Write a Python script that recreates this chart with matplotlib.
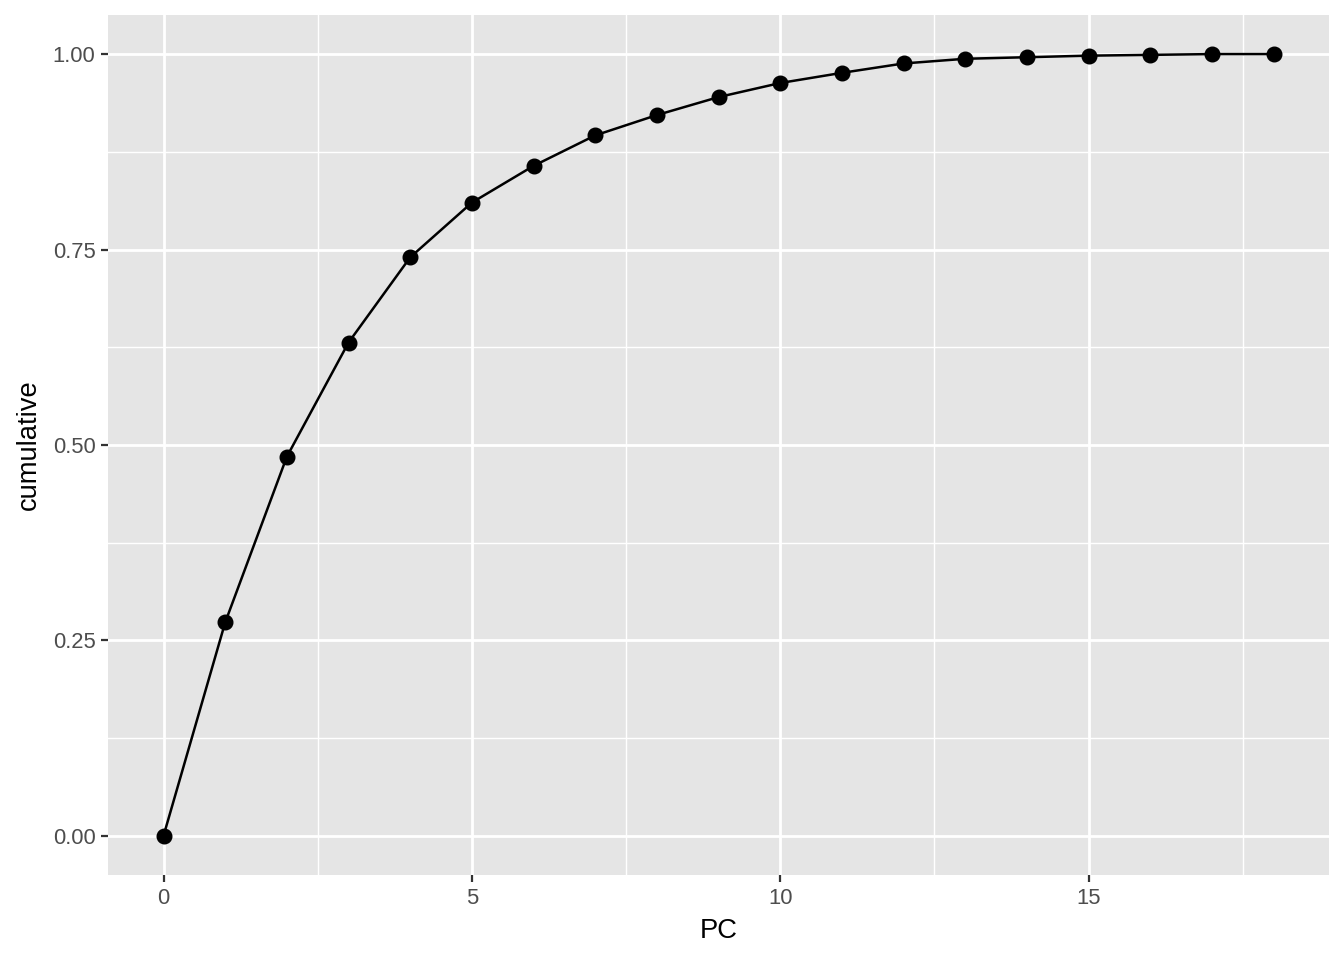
import matplotlib.pyplot as plt
import numpy as np

plt.rcParams['font.family'] = ['Liberation Sans', 'DejaVu Sans']

# cumulative explained variance per PC
pc = [0, 1, 2, 3, 4, 5, 6, 7, 8, 9, 10, 11, 12, 13, 14, 15, 16, 17, 18]
cumulative = [0.0, 0.273, 0.485, 0.631, 0.740, 0.810, 0.857, 0.896, 0.922,
              0.945, 0.963, 0.976, 0.988, 0.994, 0.996, 0.998, 0.999, 1.0, 1.0]
xticks = [0, 5, 10, 15]
yticks = [0.0, 0.25, 0.5, 0.75, 1.0]

fig = plt.figure(figsize=(13.44, 9.6), dpi=100)
ax = fig.add_axes([108/1344, 1-875/960, (1329-108)/1344, (875-15)/960])
ax.set_facecolor('#E5E5E5')

ax.set_xlim(-0.9, 18.9)
ax.set_ylim(-0.05, 1.05)
ax.set_xticks(xticks)
ax.set_yticks(yticks)
ax.set_yticklabels(['%.2f' % v for v in yticks])
ax.set_xticks([2.5, 7.5, 12.5, 17.5], minor=True)
ax.set_yticks([0.125, 0.375, 0.625, 0.875], minor=True)

ax.grid(which='major', color='white', linewidth=2.0)
ax.grid(which='minor', color='white', linewidth=1.0)
ax.set_axisbelow(True)
for s in ax.spines.values():
    s.set_visible(False)
ax.tick_params(which='major', length=5, width=1.6, color='#333333',
               labelcolor='#4D4D4D', labelsize=15.8, pad=4)
ax.tick_params(which='minor', length=0)

ax.plot(pc, cumulative, color='black', linewidth=1.8, marker='o',
        markersize=10.5, zorder=3)

ax.set_xlabel('PC', fontsize=19.7, color='black', labelpad=7)
ax.set_ylabel('cumulative', fontsize=19.7, color='black', labelpad=8)

fig.savefig('out.png', dpi=100)
